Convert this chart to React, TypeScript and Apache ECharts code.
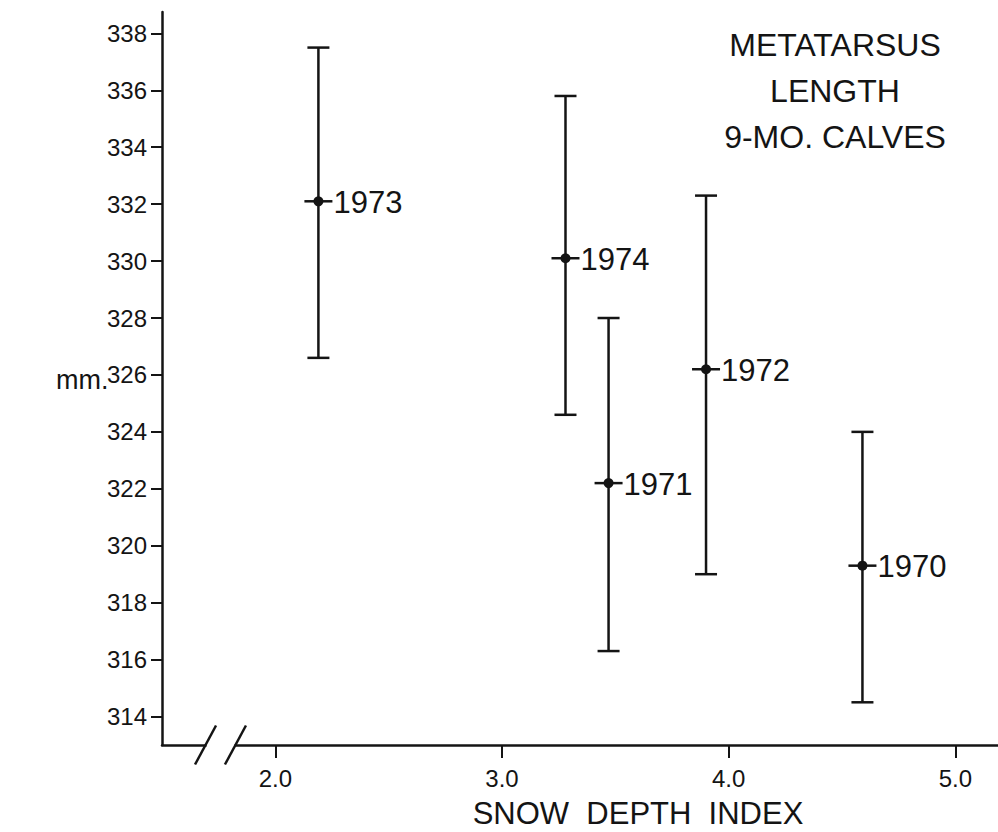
import React, { useEffect, useRef } from 'react';
import * as echarts from 'echarts';

// ---- data ----
const years = ['1973', '1974', '1971', '1972', '1970'];
const snowIndex = [2.19, 3.28, 3.47, 3.9, 4.59];
const meanLength = [332.1, 330.1, 322.2, 326.2, 319.3];
const lowerLimit = [326.6, 324.6, 316.3, 319.0, 314.5];
const upperLimit = [337.5, 335.8, 328.0, 332.3, 324.0];

const yTicks = [314, 316, 318, 320, 322, 324, 326, 328, 330, 332, 334, 336, 338];
const xTicks = [2, 3, 4, 5];
const titleLines = ['METATARSUS', 'LENGTH', '9-MO. CALVES'];
const xAxisTitle = 'SNOW  DEPTH  INDEX';
const yAxisTitle = 'mm.';

const X_MIN = 1.5;
const X_MAX = 5.188;
const Y_MIN = 313;
const Y_MAX = 338.75;
const BREAK_FROM = 1.692;
const BREAK_TO = 1.824;

const INK = '#141414';
const FONT = '"Liberation Sans", Arial, sans-serif';

export default function App() {
  const ref = useRef<HTMLDivElement>(null);

  useEffect(() => {
    if (!ref.current) return;
    const chart = echarts.init(ref.current, null, { renderer: 'svg' });
    const data = years.map((y, i) => [snowIndex[i], meanLength[i], lowerLimit[i], upperLimit[i]]);

    const tickLabel = {
      fontSize: 24,
      color: INK,
      fontFamily: FONT,
    };

    chart.setOption({
      animation: false,
      backgroundColor: '#ffffff',
      textStyle: { fontFamily: FONT, fontSize: 24, color: INK },
      grid: { left: 162, right: 0, top: 12, bottom: 87, containLabel: false },
      xAxis: {
        type: 'value',
        min: X_MIN,
        max: X_MAX,
        axisLine: { show: true, onZero: false, lineStyle: { color: INK, width: 2.5 } },
        axisTick: { show: true, customValues: xTicks, length: 13, lineStyle: { color: INK, width: 2 } },
        axisLabel: {
          show: true,
          customValues: xTicks,
          formatter: (v: number) => Number(v).toFixed(1),
          margin: 21,
          ...tickLabel,
        },
        splitLine: { show: false },
      },
      yAxis: {
        type: 'value',
        min: Y_MIN,
        max: Y_MAX,
        axisLine: { show: true, onZero: false, lineStyle: { color: INK, width: 2.5 } },
        axisTick: { show: true, customValues: yTicks, length: 11, lineStyle: { color: INK, width: 2 } },
        axisLabel: {
          show: true,
          customValues: yTicks,
          margin: 15,
          ...tickLabel,
        },
        splitLine: { show: false },
      },
      series: [
        {
          type: 'custom',
          clip: false,
          data,
          encode: { x: 0, y: [1, 2, 3] },
          renderItem: (params: any, api: any) => {
            const x = api.value(0);
            const pm = api.coord([x, api.value(1)]);
            const pl = api.coord([x, api.value(2)]);
            const ph = api.coord([x, api.value(3)]);
            const st = { stroke: INK, lineWidth: 2.5 };
            return {
              type: 'group',
              children: [
                { type: 'line', shape: { x1: pl[0], y1: pl[1], x2: ph[0], y2: ph[1] }, style: st },
                { type: 'line', shape: { x1: ph[0] - 11, y1: ph[1], x2: ph[0] + 11, y2: ph[1] }, style: st },
                { type: 'line', shape: { x1: pl[0] - 11, y1: pl[1], x2: pl[0] + 11, y2: pl[1] }, style: st },
                { type: 'line', shape: { x1: pm[0] - 14, y1: pm[1], x2: pm[0] + 14, y2: pm[1] }, style: st },
                { type: 'circle', shape: { cx: pm[0], cy: pm[1], r: 5 }, style: { fill: INK } },
                {
                  type: 'text',
                  x: pm[0] + 15,
                  y: pm[1] + 1,
                  style: {
                    text: years[params.dataIndex],
                    fontSize: 31,
                    fontFamily: FONT,
                    fill: INK,
                    verticalAlign: 'middle',
                    align: 'left',
                  },
                },
              ],
            };
          },
        },
      ],
    });

    const a = chart.convertToPixel({ gridIndex: 0 }, [BREAK_FROM, Y_MIN]) as number[];
    const b = chart.convertToPixel({ gridIndex: 0 }, [BREAK_TO, Y_MIN]) as number[];
    const slash = (p: number[]) => ({
      type: 'line',
      shape: { x1: p[0] - 10.5, y1: p[1] + 19.5, x2: p[0] + 10.5, y2: p[1] - 19.5 },
      style: { stroke: INK, lineWidth: 2.5 },
      z: 110,
    });

    chart.setOption({
      graphic: [
        {
          type: 'rect',
          shape: { x: a[0] + 1, y: a[1] - 5, width: b[0] - a[0] - 2, height: 10 },
          style: { fill: '#ffffff' },
          z: 100,
        },
        slash(a),
        slash(b),
        ...titleLines.map((t, i) => ({
          type: 'text',
          x: 835,
          y: 45 + i * 46,
          style: {
            text: t,
            fontSize: 32,
            fontFamily: FONT,
            fill: INK,
            align: 'center',
            verticalAlign: 'middle',
          },
        })),
        {
          type: 'text',
          x: 638,
          y: 813,
          style: {
            text: xAxisTitle,
            fontSize: 31,
            fontFamily: FONT,
            fill: INK,
            align: 'center',
            verticalAlign: 'middle',
          },
        },
        {
          type: 'text',
          x: 56,
          y: 380,
          style: {
            text: yAxisTitle,
            fontSize: 27,
            fontFamily: FONT,
            fill: INK,
            align: 'left',
            verticalAlign: 'middle',
          },
        },
      ],
    });

    return () => chart.dispose();
  }, []);

  return (
    <div
      ref={ref}
      style={{ position: 'absolute', left: 0, top: 0, width: 998, height: 832, background: '#fff' }}
    />
  );
}
